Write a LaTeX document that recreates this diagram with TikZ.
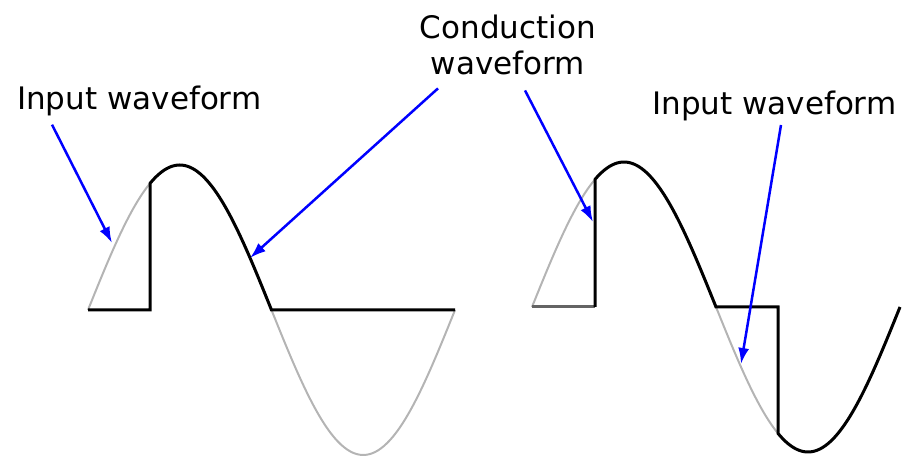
\documentclass[tikz,border=0pt]{standalone}
\usepackage{fontspec}
\newfontfamily\labelfont{DejaVu Sans}
\usepackage{xcolor}
\definecolor{wfgray}{RGB}{180,180,180}
\definecolor{wfdark}{RGB}{100,100,100}
\definecolor{wfblue}{RGB}{0,0,255}
\usetikzlibrary{arrows.meta,positioning,calc}

\begin{document}
\begin{tikzpicture}[
  x=1pt, y=-1pt,
  lbl/.style={inner sep=0pt, font=\labelfont\fontsize{31}{36}\selectfont, align=center},
  inwave/.style={draw=wfgray, line width=2pt},
  condwave/.style={draw=black, line width=3pt},
  arr/.style={-{Latex[length=16pt, width=11pt]}, draw=wfblue, line width=2.5pt}
]
\useasboundingbox (0,0) rectangle (903,457);

% Input waveforms
\draw[inwave] plot[domain=88:455, samples=120, smooth] (\x, {310-145*sin((\x-88)/367*360)});
\draw[inwave] plot[domain=532:900, samples=120, smooth] (\x, {307-145*sin((\x-532)/368*360)});

% Conduction waveforms
\draw[condwave] (88,310) -- (150,310)
  -- plot[domain=150:271.5, samples=50, smooth] (\x, {310-145*sin((\x-88)/367*360)})
  -- (455,310);
\draw[condwave, draw=wfdark] (532,307) -- (595,307);
\draw[condwave] (595,307)
  -- plot[domain=595:716, samples=50, smooth] (\x, {307-145*sin((\x-532)/368*360)})
  -- (778,307)
  -- plot[domain=778:900, samples=50, smooth] (\x, {307-145*sin((\x-532)/368*360)});

% Labels
\node[lbl, anchor=base west] (inL) at (17,110) {Input waveform};
\node[lbl, anchor=north] (cond) at (508,15) {Conduction\\waveform};
\node[lbl, anchor=base west] (inR) at (652,115) {Input waveform};

% Arrow tips
\coordinate (tipL)  at (112,243);
\coordinate (tipC1) at (250,258);
\coordinate (tipC2) at (593,222);
\coordinate (tipR)  at (741,364);

% Arrows
\draw[arr] ([xshift=35pt, yshift=-8pt]inL.south west) -- (tipL);
\draw[arr] ([xshift=-70pt, yshift=-13pt]cond.south) -- (tipC1);
\draw[arr] ([xshift=17pt, yshift=-15pt]cond.south) -- (tipC2);
\draw[arr] ([xshift=129pt, yshift=-10pt]inR.base west) -- (tipR);
\end{tikzpicture}
\end{document}
